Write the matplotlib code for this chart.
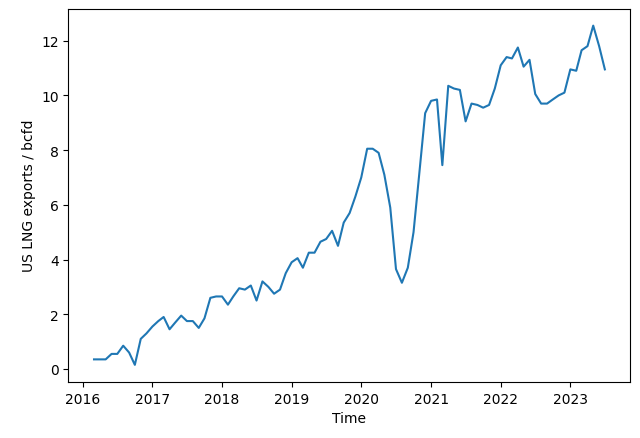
import numpy as np
import pandas as pd
import matplotlib
matplotlib.use("Agg")
import matplotlib.pyplot as plt

start_month = "2016-03"
exports_bcfd = [
    0.35, 0.35, 0.35, 0.55, 0.55, 0.85, 0.6, 0.15, 1.1, 1.3,
    1.55, 1.75, 1.9, 1.45, 1.7, 1.95, 1.75, 1.75, 1.5, 1.85, 2.6, 2.65,
    2.65, 2.35, 2.65, 2.95, 2.9, 3.05, 2.5, 3.2, 3.0, 2.75, 2.9, 3.5,
    3.9, 4.05, 3.7, 4.25, 4.25, 4.65, 4.75, 5.05, 4.5, 5.35, 5.7, 6.3,
    7.0, 8.05, 8.05, 7.9, 7.1, 5.9, 3.65, 3.15, 3.7, 5.0, 7.2, 9.35,
    9.8, 9.85, 7.45, 10.35, 10.25, 10.2, 9.05, 9.7, 9.65, 9.55, 9.65, 10.25,
    11.1, 11.4, 11.35, 11.75, 11.05, 11.3, 10.05, 9.7, 9.7, 9.85, 10.0, 10.1,
    10.95, 10.9, 11.65, 11.8, 12.55, 11.8, 10.95,
]

dates = pd.date_range(start_month, periods=len(exports_bcfd), freq="MS")

fig, ax = plt.subplots(figsize=(6.4, 4.39), dpi=100)
fig.subplots_adjust(left=0.107, right=0.985, top=0.978, bottom=0.128)
ax.plot(dates, exports_bcfd, color="#1f77b4")
ax.set_xlabel("Time")
ax.set_ylabel("US LNG exports / bcfd")
fig.savefig("out.png", dpi=100)
